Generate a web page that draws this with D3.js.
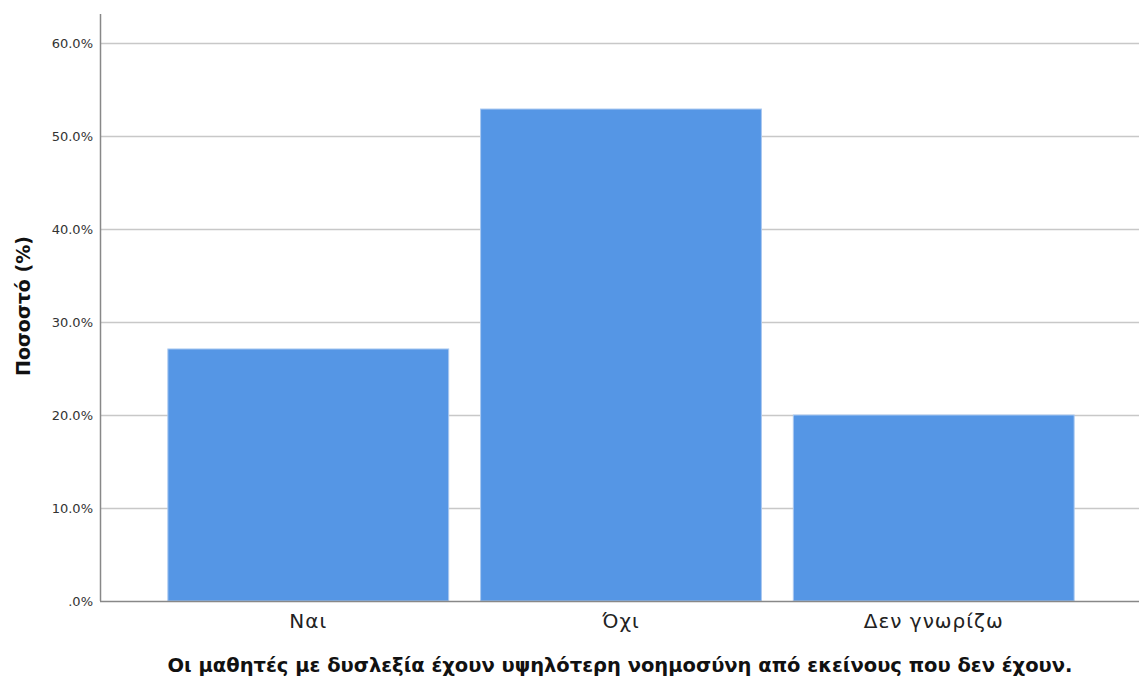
<!DOCTYPE html>
<html><head><meta charset="utf-8">
<script src="https://cdn.jsdelivr.net/npm/d3@7"></script>
<style>body{margin:0;background:#fff}</style>
</head><body>
<svg id="c" width="1139" height="677"></svg>
<script>
const categories = ["Ναι", "Όχι", "Δεν γνωρίζω"];
const values = [27.1, 52.9, 20.0];
const yTicks = [0, 10, 20, 30, 40, 50, 60];
const yTitle = "Ποσοστό (%)";
const xTitle = "Οι μαθητές με δυσλεξία έχουν υψηλότερη νοημοσύνη από εκείνους που δεν έχουν.";

(function () {
const svg = d3.select("#c");
const mLeft = 100, mRight = 1139, mTop = 14, mBottom = 601;

const y = d3.scaleLinear().domain([0, 60]).range([mBottom, 43]);
const x = d3.scaleBand().domain(categories).range([mLeft, 1142]).paddingInner(0.102).paddingOuter(0.217);

// gridlines
svg.append("g").selectAll("line").data(yTicks.filter(d => d > 0)).join("line")
  .attr("x1", mLeft).attr("x2", mRight)
  .attr("y1", d => Math.round(y(d)) + 0.5).attr("y2", d => Math.round(y(d)) + 0.5)
  .attr("stroke", "#c8c8c8").attr("stroke-width", 1.5);

// bars
svg.append("g").selectAll("rect").data(values).join("rect")
  .attr("x", (d, i) => x(categories[i]))
  .attr("width", x.bandwidth())
  .attr("y", d => y(d))
  .attr("height", d => mBottom - y(d))
  .attr("fill", "#5596e5")
  .attr("stroke", "#a9c8f0").attr("stroke-width", 1);

// y axis
const yAxis = d3.axisLeft(y).tickValues(yTicks).tickSize(0).tickPadding(7)
  .tickFormat(d => d === 0 ? ".0%" : d3.format(".1f")(d) + "%");
const gy = svg.append("g").attr("transform", `translate(${mLeft},0)`).call(yAxis);
gy.select(".domain").remove();
gy.selectAll("text").attr("font-family", "DejaVu Sans").attr("font-size", 13).attr("fill", "#333");
svg.append("line").attr("x1", mLeft + 0.5).attr("x2", mLeft + 0.5).attr("y1", mTop).attr("y2", mBottom)
  .attr("stroke", "#888").attr("stroke-width", 1.5);

// x axis
const xAxis = d3.axisBottom(x).tickSize(0).tickPadding(13);
const gx = svg.append("g").attr("transform", `translate(0,${mBottom})`).call(xAxis);
gx.select(".domain").remove();
gx.selectAll("text").attr("font-family", "DejaVu Sans").attr("font-size", 20)
  .attr("letter-spacing", 1).attr("fill", "#222");
svg.append("line").attr("x1", mLeft).attr("x2", mRight).attr("y1", mBottom + 0.5).attr("y2", mBottom + 0.5)
  .attr("stroke", "#888").attr("stroke-width", 1.5);

// titles
svg.append("text").attr("x", 620).attr("y", 672).attr("text-anchor", "middle")
  .attr("font-family", "DejaVu Sans").attr("font-weight", "bold").attr("font-size", 19.5)
  .attr("fill", "#111").text(xTitle);
svg.append("text").attr("transform", "translate(30,306) rotate(-90)").attr("text-anchor", "middle")
  .attr("font-family", "DejaVu Sans").attr("font-weight", "bold").attr("font-size", 19)
  .attr("fill", "#111").text(yTitle);
})();
</script>
</body></html>
